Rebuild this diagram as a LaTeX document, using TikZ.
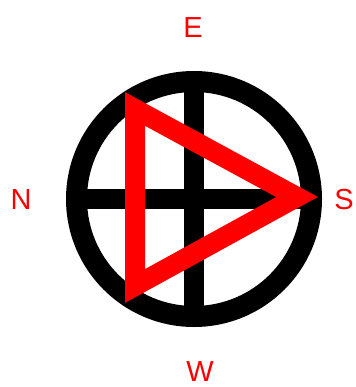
\documentclass[tikz,border=0pt]{standalone}
\usepackage{fontspec}
\setmainfont{Liberation Sans}
\begin{document}
\begin{tikzpicture}[x=1pt,y=-1pt,
        ring/.style={line width=21pt, black},
        bar/.style={line width=20.5pt, black},
        wedge/.style={line width=20pt, red, line join=miter},
        compass/.style={text=red, font=\fontsize{29}{30}\selectfont, inner sep=0pt}]
        \useasboundingbox (0,0) rectangle (355,387);
        % ring
            \coordinate (c) at (194,199);
            \draw[ring] (c) circle (117.5);
        % cross
            \draw[bar] (c) ++(-117.5,0) -- ++(235,0);
            \draw[bar] (c) ++(0,-117.5) -- ++(0,235);
        % triangle
            \coordinate (t1) at (135,109);
            \coordinate (t2) at (297,197);
            \coordinate (t3) at (135,286);
            \draw[wedge] (t1) -- (t2) -- (t3) -- cycle;
        % labels
            \foreach \n/\x/\y in {E/193/28,N/21/200,S/344/200,W/200/372}{
                \node[compass] (\n) at (\x,\y) {\n};
            }
        \end{tikzpicture}
\end{document}
